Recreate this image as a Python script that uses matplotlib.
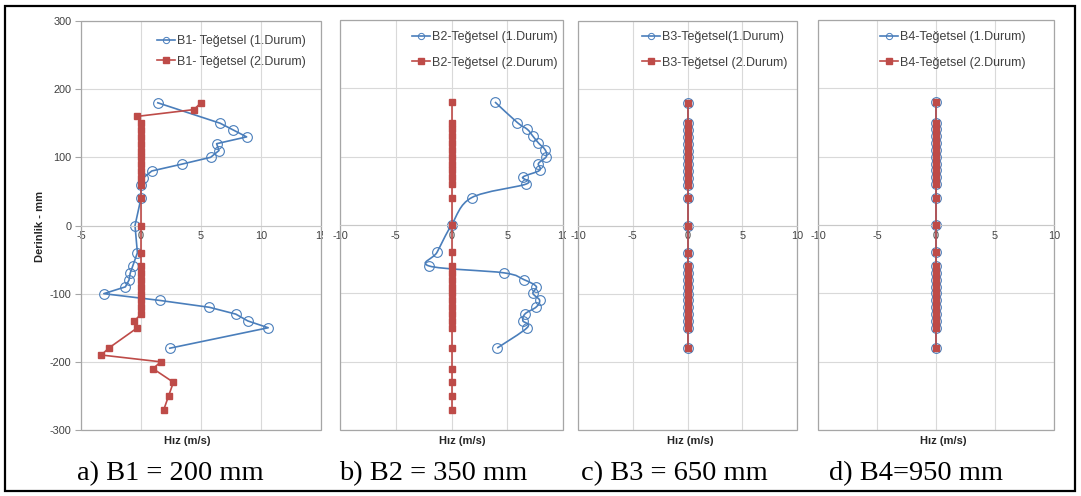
import numpy as np
import matplotlib
matplotlib.use("Agg")
import matplotlib.pyplot as plt
from matplotlib.patches import Rectangle, PathPatch
from matplotlib.path import Path
from matplotlib.lines import Line2D

plt.rcParams['font.family'] = ['Liberation Sans', 'DejaVu Sans']
plt.rcParams['axes.unicode_minus'] = False

# ---------------- data ----------------
# measuring stations (mm) for the 1st case
depth_1 = [180, 150, 140, 130, 120, 110, 100, 90, 80, 70, 60, 40, 0, -40,
           -60, -70, -80, -90, -100, -110, -120, -130, -140, -150, -180]

# B1
b1_case1 = [1.4, 6.6, 7.7, 8.8, 6.3, 6.5, 5.8, 3.4, 0.9, 0.2, 0.0, 0.0, -0.5, -0.3,
            -0.7, -0.9, -1.0, -1.3, -3.1, 1.6, 5.7, 7.9, 8.9, 10.6, 2.4]
b1_depth_2 = [180, 170, 160, 150, 140, 130, 120, 110, 100, 90, 80, 70, 60, 40, 0, -40,
              -60, -70, -80, -90, -100, -110, -120, -130, -140, -150,
              -180, -190, -200, -210, -230, -250, -270]
b1_case2 = [5.0, 4.4, -0.35, 0, 0, 0, 0, 0, 0, 0, 0, 0, 0, 0, 0, 0,
            0, 0, 0, 0, 0, 0, 0, 0, -0.55, -0.3,
            -2.7, -3.3, 1.65, 1.0, 2.7, 2.3, 1.9]

# B2
b2_case1 = [3.9, 5.9, 6.8, 7.3, 7.8, 8.4, 8.5, 7.8, 7.9, 6.4, 6.7, 1.8, 0.0, -1.3,
            -2.0, 4.7, 6.5, 7.6, 7.3, 7.9, 7.6, 6.6, 6.4, 6.8, 4.1]
b2_depth_2 = [180, 150, 140, 130, 120, 110, 100, 90, 80, 70, 60, 40, 0, -40,
              -60, -70, -80, -90, -100, -110, -120, -130, -140, -150,
              -180, -210, -230, -250, -270]
b2_case2 = [0, 0, 0, 0, 0, 0, 0, 0, 0, 0, 0, 0, 0, 0,
            0, 0, 0, 0, 0, 0, 0, 0, 0, 0,
            0, 0, 0, 0, 0]

# B3
b3_case1 = [0, 0, 0, 0, 0, 0, 0, 0, 0, 0, 0, 0, 0, 0,
            0, 0, 0, 0, 0, 0, 0, 0, 0, 0, 0]
b3_case2 = [0, 0, 0, 0, 0, 0, 0, 0, 0, 0, 0, 0, 0, 0,
            0, 0, 0, 0, 0, 0, 0, 0, 0, 0, 0]

# B4
b4_case1 = [0, 0, 0, 0, 0, 0, 0, 0, 0, 0, 0, 0, 0, 0,
            0, 0, 0, 0, 0, 0, 0, 0, 0, 0, 0]
b4_case2 = [0, 0, 0, 0, 0, 0, 0, 0, 0, 0, 0, 0, 0, 0,
            0, 0, 0, 0, 0, 0, 0, 0, 0, 0, 0]

labels_1 = ["B1- Teğetsel (1.Durum)", "B2-Teğetsel (1.Durum)",
            "B3-Teğetsel(1.Durum)", "B4-Teğetsel (1.Durum)"]
labels_2 = ["B1- Teğetsel (2.Durum)", "B2-Teğetsel (2.Durum)",
            "B3-Teğetsel (2.Durum)", "B4-Teğetsel (2.Durum)"]
captions = ["a) B1 = 200 mm", "b) B2 = 350 mm", "c) B3 = 650 mm", "d) B4=950 mm"]
y_ticks = [-300, -200, -100, 0, 100, 200, 300]

# ---------------- style ----------------
BLUE = "#4a7ebb"
RED = "#be4b48"
GRID = "#d9d9d9"
BORDER = "#a6a6a6"
TXT = "#404040"

W, H = 1081, 496
fig = plt.figure(figsize=(W / 100, H / 100), dpi=100)
fig.patch.set_facecolor("white")


def fx(px):
    return px / W


def fy(py):
    return 1 - py / H


def smooth_path(x, y):
    """Bezier path through the points (Catmull-Rom style smoothing)."""
    pts = np.column_stack([x, y]).astype(float)
    n = len(pts)
    verts = [pts[0]]
    codes = [Path.MOVETO]
    for i in range(n - 1):
        p0 = pts[i - 1] if i > 0 else pts[i]
        p1 = pts[i]
        p2 = pts[i + 1]
        p3 = pts[i + 2] if i + 2 < n else pts[i + 1]
        verts += [p1 + (p2 - p0) / 6, p2 - (p3 - p1) / 6, p2]
        codes += [Path.CURVE4] * 3
    return Path(verts, codes)


# panel geometry in pixels: left, top, right, bottom of plot area
panels = [
    dict(box=(81, 21, 321, 430), xlim=(-5, 15), xt=[-5, 0, 5, 10, 15],
         d1=depth_1, v1=b1_case1, d2=b1_depth_2, v2=b1_case2, smooth=False,
         leg=(157, 35), lsp=0.7, bg=None, hiz=187),
    dict(box=(340, 20, 563, 430), xlim=(-10, 10), xt=[-10, -5, 0, 5, 10],
         d1=depth_1, v1=b2_case1, d2=b2_depth_2, v2=b2_case2, smooth=True,
         leg=(412, 31), lsp=1.1, bg=(322.5, 566), hiz=462),
    dict(box=(578, 21, 797, 430), xlim=(-10, 10), xt=[-10, -5, 0, 5, 10],
         d1=depth_1, v1=b3_case1, d2=depth_1, v2=b3_case2, smooth=False,
         leg=(642, 31), lsp=1.1, bg=(566, 807), hiz=690),
    dict(box=(818, 20, 1054, 430), xlim=(-10, 10), xt=[-10, -5, 0, 5, 10],
         d1=depth_1, v1=b4_case1, d2=depth_1, v2=b4_case2, smooth=False,
         leg=(880, 31), lsp=1.1, bg=(807, 1071), hiz=943),
]
caption_x = [170, 433, 674, 916]

z = 1
for k, p in enumerate(panels):
    l, t, r, b = p["box"]
    if p["bg"] is not None:
        x0, x1 = p["bg"]
        fig.patches.append(Rectangle((fx(x0), fy(452)), fx(x1 - x0), (452 - 8) / H,
                                     transform=fig.transFigure, fc="white",
                                     ec="none", zorder=z))
        z += 1
    ax = fig.add_axes([fx(l), fy(b), fx(r - l), (b - t) / H])
    ax.set_zorder(z)
    z += 1

    ax.set_xlim(*p["xlim"])
    ax.set_ylim(-300, 300)
    ax.set_xticks(p["xt"])
    ax.set_yticks(y_ticks)
    ax.grid(True, color=GRID, lw=0.8)
    ax.set_axisbelow(True)
    for s in ["top", "right", "left"]:
        ax.spines[s].set_visible(False)
    ax.spines["bottom"].set_position(("data", 0))
    ax.spines["bottom"].set_color("#c8c8c8")
    ax.spines["bottom"].set_linewidth(0.8)
    ax.add_patch(Rectangle((0, 0), 1, 1, transform=ax.transAxes, fill=False,
                           ec=BORDER, lw=0.9, clip_on=False, zorder=1.5))
    ax.tick_params(axis="x", length=0, pad=4, labelsize=7.8, labelcolor=TXT)
    if k == 0:
        ax.tick_params(axis="y", length=4, width=0.8, color=BORDER, pad=3,
                       labelsize=7.8, labelcolor=TXT)
    else:
        ax.tick_params(axis="y", length=0, labelleft=False)

    # 1st case: hollow circles
    if p["smooth"]:
        ax.add_patch(PathPatch(smooth_path(p["v1"], p["d1"]), fill=False,
                               ec=BLUE, lw=1.2, zorder=2))
        ax.plot(p["v1"], p["d1"], ls="none", marker="o", ms=7, mfc="none",
                mec=BLUE, mew=0.8, zorder=2)
    else:
        ax.plot(p["v1"], p["d1"], color=BLUE, lw=1.2, marker="o", ms=7,
                mfc="none", mec=BLUE, mew=0.8, zorder=2)
    # 2nd case: filled squares
    ax.plot(p["v2"], p["d2"], color=RED, lw=1.2, marker="s", ms=5,
            mfc=RED, mec=RED, zorder=3)

    h1 = Line2D([], [], color=BLUE, lw=1.2, marker="o", ms=4.5, mfc="none",
                mec=BLUE, mew=0.7)
    h2 = Line2D([], [], color=RED, lw=1.2, marker="s", ms=4, mfc=RED, mec=RED)
    lx, ly = p["leg"]
    leg = ax.legend([h1, h2], [labels_1[k], labels_2[k]], loc="upper left",
                    bbox_to_anchor=((lx - l) / (r - l), (b - ly) / (b - t)),
                    frameon=False, fontsize=9, borderpad=0, borderaxespad=0,
                    handlelength=1.45, handletextpad=0.15,
                    labelspacing=p["lsp"])
    for txt in leg.get_texts():
        txt.set_color(TXT)

    fig.text(fx(p["hiz"]), fy(441), "Hız (m/s)", ha="center", va="center",
             fontsize=8, fontweight="bold", color="#262626", zorder=20)
    fig.text(fx(caption_x[k]), fy(474), captions[k], ha="center", va="center",
             fontsize=20.5, family=["Liberation Serif", "DejaVu Serif"],
             color="black", zorder=20)

fig.text(fx(40), fy(226), "Derinlik - mm", rotation=90, ha="center",
         va="center", fontsize=8, fontweight="bold", color="#262626", zorder=20)

# outer frame
fig.patches.append(Rectangle((fx(5), fy(491)), fx(1075 - 5), (491 - 6) / H,
                             transform=fig.transFigure, fill=False, ec="black",
                             lw=1.6, zorder=50))

fig.savefig("out.png", dpi=100)
